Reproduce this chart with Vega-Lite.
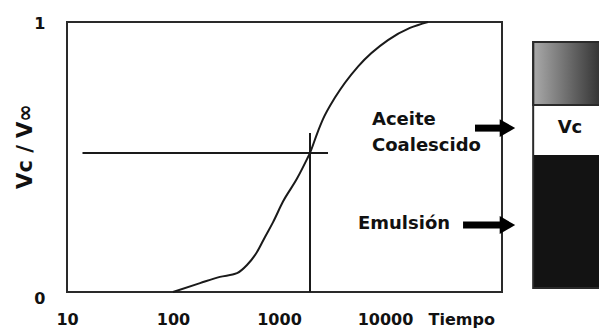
{
  "$schema": "https://vega.github.io/schema/vega-lite/v6.json",
  "width": 435,
  "height": 270,
  "autosize": "none",
  "padding": {"left": 67, "top": 22, "right": 97, "bottom": 38},
  "background": "white",
  "config": {
    "view": {"stroke": "#2a2a2a", "strokeWidth": 2},
    "font": "DejaVu Sans"
  },
  "resolve": {"axis": {"x": "independent", "y": "independent"}},
  "datasets": {
    "curve": [
      {"t": 100, "v": 0},
      {"t": 180, "v": 0.033},
      {"t": 277, "v": 0.056},
      {"t": 402, "v": 0.07},
      {"t": 499, "v": 0.1},
      {"t": 620, "v": 0.148},
      {"t": 738, "v": 0.204},
      {"t": 877, "v": 0.258},
      {"t": 1091, "v": 0.335},
      {"t": 1479, "v": 0.42},
      {"t": 1837, "v": 0.492},
      {"t": 1960, "v": 0.515},
      {"t": 2280, "v": 0.585},
      {"t": 2600, "v": 0.64},
      {"t": 3374, "v": 0.72},
      {"t": 5560, "v": 0.835},
      {"t": 10670, "v": 0.933},
      {"t": 17200, "v": 0.978},
      {"t": 25470, "v": 1}
    ],
    "refs": [
      {"t1": 14, "t2": 2900, "v1": 0.515, "v2": 0.515},
      {"t1": 1960, "t2": 1960, "v1": 0, "v2": 0.589}
    ],
    "column": [{"t1": 250000, "t2": 1200000, "v1": 0.015, "v2": 0.926}],
    "oilTop": [{"t1": 250000, "t2": 1200000, "v1": 0.693, "v2": 0.926}],
    "coalesced": [{"t1": 250000, "t2": 1200000, "v1": 0.507, "v2": 0.693}],
    "emulsion": [{"t1": 250000, "t2": 1200000, "v1": 0.015, "v2": 0.507}],
    "arrows": [
      {"t1": 70600, "t2": 127000, "head": 143000, "v": 0.607},
      {"t1": 54500, "t2": 127000, "head": 143000, "v": 0.248}
    ],
    "labels": [
      {"label": "Aceite", "t": 7540, "v": 0.637},
      {"label": "Coalescido", "t": 7540, "v": 0.541},
      {"label": "Emulsión", "t": 5560, "v": 0.252}
    ],
    "vc": [{"label": "Vc", "t": 556000, "v": 0.607}]
  },
  "layer": [
    {
      "data": {"name": "curve"},
      "mark": {"type": "line", "color": "#1a1a1a", "strokeWidth": 2, "interpolate": "monotone"},
      "encoding": {
        "x": {
          "field": "t", "type": "quantitative",
          "scale": {"type": "log", "domain": [10, 127000], "nice": false},
          "axis": {
            "values": [10, 100, 1000, 10000],
            "format": "d",
            "domain": false, "ticks": false, "tickSize": 0, "grid": false,
            "labelFlush": false,
            "labelFont": "DejaVu Sans", "labelFontSize": 16, "labelFontWeight": "bold", "labelColor": "#111",
            "labelPadding": 19,
            "title": "Tiempo",
            "titleFont": "DejaVu Sans", "titleFontSize": 16, "titleFontWeight": "bold", "titleColor": "#111",
            "titleX": 361, "titleY": 27, "titleAlign": "left", "titleBaseline": "middle", "titleAnchor": "start"
          }
        },
        "y": {
          "field": "v", "type": "quantitative",
          "scale": {"domain": [0, 1], "nice": false, "zero": false},
          "axis": {
            "values": [0, 1],
            "format": "d",
            "domain": false, "ticks": false, "tickSize": 0, "grid": false,
            "labelFlush": false,
            "labelFont": "DejaVu Sans", "labelFontSize": 16, "labelFontWeight": "bold", "labelColor": "#111",
            "labelPadding": 22,
            "labelOffset": {"condition": {"test": "datum.value === 0", "value": 6}, "value": 1},
            "title": "Vc / V∞",
            "titleFont": "DejaVu Sans", "titleFontSize": 21, "titleFontWeight": "bold", "titleColor": "#111",
            "titleX": -42, "titleY": 124, "titleAlign": "center", "titleBaseline": "middle", "titleAngle": 270
          }
        }
      }
    },
    {
      "data": {"name": "refs"},
      "mark": {"type": "rule", "color": "#1a1a1a", "strokeWidth": 2},
      "encoding": {
        "x": {"field": "t1", "type": "quantitative", "axis": null},
        "x2": {"field": "t2"},
        "y": {"field": "v1", "type": "quantitative", "axis": null},
        "y2": {"field": "v2"}
      }
    },
    {
      "data": {"name": "emulsion"},
      "mark": {"type": "rect", "fill": "#131313"},
      "encoding": {
        "x": {"field": "t1", "type": "quantitative", "axis": null},
        "x2": {"field": "t2"},
        "y": {"field": "v1", "type": "quantitative", "axis": null},
        "y2": {"field": "v2"}
      }
    },
    {
      "data": {"name": "coalesced"},
      "mark": {"type": "rect", "fill": "#ffffff"},
      "encoding": {
        "x": {"field": "t1", "type": "quantitative", "axis": null},
        "x2": {"field": "t2"},
        "y": {"field": "v1", "type": "quantitative", "axis": null},
        "y2": {"field": "v2"}
      }
    },
    {
      "data": {"name": "oilTop"},
      "mark": {
        "type": "rect",
        "fill": {
          "gradient": "linear", "x1": 0, "y1": 0, "x2": 1, "y2": 0,
          "stops": [{"offset": 0, "color": "#aaaaaa"}, {"offset": 1, "color": "#2a2a2a"}]
        },
        "stroke": "#2a2a2a", "strokeWidth": 2
      },
      "encoding": {
        "x": {"field": "t1", "type": "quantitative", "axis": null},
        "x2": {"field": "t2"},
        "y": {"field": "v1", "type": "quantitative", "axis": null},
        "y2": {"field": "v2"}
      }
    },
    {
      "data": {"name": "column"},
      "mark": {"type": "rect", "fill": null, "fillOpacity": 0, "stroke": "#2a2a2a", "strokeWidth": 2},
      "encoding": {
        "x": {"field": "t1", "type": "quantitative", "axis": null},
        "x2": {"field": "t2"},
        "y": {"field": "v1", "type": "quantitative", "axis": null},
        "y2": {"field": "v2"}
      }
    },
    {
      "data": {"name": "arrows"},
      "mark": {"type": "rule", "color": "#000", "strokeWidth": 7},
      "encoding": {
        "x": {"field": "t1", "type": "quantitative", "axis": null},
        "x2": {"field": "t2"},
        "y": {"field": "v", "type": "quantitative", "axis": null}
      }
    },
    {
      "data": {"name": "arrows"},
      "mark": {"type": "point", "shape": "triangle-right", "filled": true, "color": "#000", "size": 320, "opacity": 1},
      "encoding": {
        "x": {"field": "head", "type": "quantitative", "axis": null},
        "y": {"field": "v", "type": "quantitative", "axis": null}
      }
    },
    {
      "data": {"name": "labels"},
      "mark": {"type": "text", "align": "left", "baseline": "middle", "font": "DejaVu Sans", "fontSize": 18, "fontWeight": "bold", "color": "#111"},
      "encoding": {
        "x": {"field": "t", "type": "quantitative", "axis": null},
        "y": {"field": "v", "type": "quantitative", "axis": null},
        "text": {"field": "label"}
      }
    },
    {
      "data": {"name": "vc"},
      "mark": {"type": "text", "align": "center", "baseline": "middle", "font": "DejaVu Sans", "fontSize": 18, "fontWeight": "bold", "color": "#111"},
      "encoding": {
        "x": {"field": "t", "type": "quantitative", "axis": null},
        "y": {"field": "v", "type": "quantitative", "axis": null},
        "text": {"field": "label"}
      }
    }
  ]
}
